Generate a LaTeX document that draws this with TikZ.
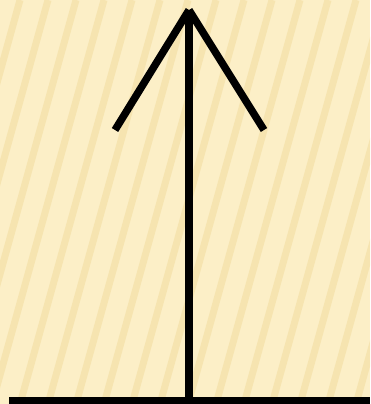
\documentclass[tikz,border=0pt]{standalone}
\usetikzlibrary{calc}
\definecolor{cream}{HTML}{FCEFC7}
\definecolor{streak}{HTML}{F2DDA2}
\definecolor{ink}{HTML}{000000}
\tikzset{
  bg/.style    ={fill=cream, draw=none},
  stripe/.style={draw=streak, line width=7pt, opacity=.6},
  stroke/.style={draw=ink, line width=7.5pt},
  ground/.style={draw=ink, line width=7pt},
}

\begin{document}
\begin{tikzpicture}[x=1pt,y=-1pt]
    \useasboundingbox (0,0) rectangle (370,404);
    \fill[bg] (0,0) rectangle (370,404);
    \begin{scope}
      \clip (0,0) rectangle (370,404);
      \foreach \s in {-120,-92,...,400} \draw[stripe] (\s,404) -- ($(\s,404)+(112,-404)$);
    \end{scope}
    \coordinate (tip)    at (189,10);
    \coordinate (base)   at (189,404);
    \coordinate (wingl)  at (115,130);
    \coordinate (wingr)  at (264,130);
    \coordinate (floorl) at (9,400.5);
    \coordinate (floorr) at (370,400.5);
    \draw[stroke] (base) -- (tip);
    \draw[stroke] (wingl) -- (tip);
    \draw[stroke] (tip) -- (wingr);
    \draw[ground] (floorl) -- (floorr);
  \end{tikzpicture}
\end{document}
